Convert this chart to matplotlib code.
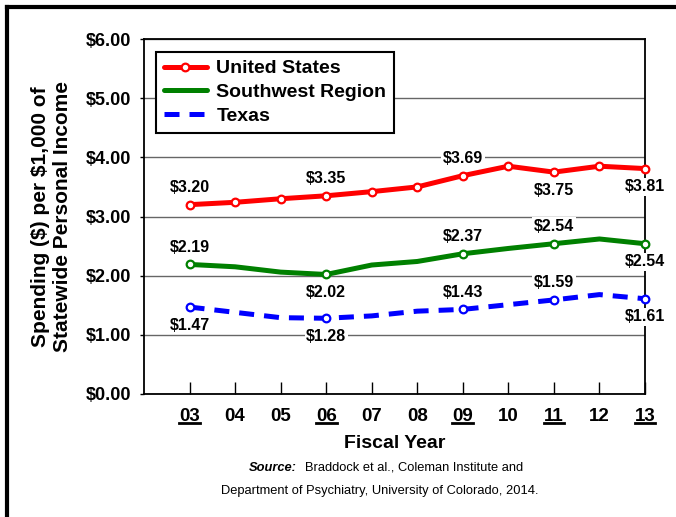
import matplotlib
matplotlib.use("Agg")
import matplotlib.pyplot as plt
from matplotlib.lines import Line2D

plt.rcParams['font.family'] = ['Liberation Sans', 'DejaVu Sans']

years = ['03', '04', '05', '06', '07', '08', '09', '10', '11', '12', '13']
underlined = ['03', '06', '09', '11', '13']
us = [3.20, 3.24, 3.30, 3.35, 3.42, 3.50, 3.69, 3.85, 3.75, 3.85, 3.81]
sw = [2.19, 2.15, 2.06, 2.02, 2.18, 2.24, 2.37, 2.46, 2.54, 2.62, 2.54]
tx = [1.47, 1.38, 1.29, 1.28, 1.32, 1.40, 1.43, 1.51, 1.59, 1.68, 1.61]
yticks = [0, 1, 2, 3, 4, 5, 6]

# label positions: (index, 'a' above / 'b' below)
us_labels = [(0, 'a'), (3, 'a'), (6, 'a'), (8, 'b'), (10, 'b')]
sw_labels = [(0, 'a'), (3, 'b'), (6, 'a'), (8, 'a'), (10, 'b')]
tx_labels = [(0, 'b'), (3, 'b'), (6, 'a'), (8, 'a'), (10, 'b')]

W, H = 676, 517
fig = plt.figure(figsize=(W / 100, H / 100), dpi=100)
L, R, T, B = 144, 645, 39, 394
ax = fig.add_axes([L / W, 1 - B / H, (R - L) / W, (B - T) / H])

x = list(range(len(years)))
red, green, blue = '#ff0000', '#008000', '#0000ff'
mk = dict(marker='o', ms=5.5, mfc='white', mew=1.6)

ax.plot(x, us, color=red, lw=3.6, zorder=3, solid_capstyle='round',
        mec=red, clip_on=False, label='United States', **mk)
ax.plot(x, sw, color=green, lw=3.6, zorder=3, solid_capstyle='round',
        label='Southwest Region')
ax.plot(x, tx, color=blue, lw=3.6, zorder=3, dashes=(3, 2),
        label='Texas')

def mark(vals, lab, col):
    idx = [i for i, _ in lab]
    ax.plot(idx, [vals[i] for i in idx], ls='none', mec=col, zorder=4,
            clip_on=False, **mk)

mark(sw, sw_labels, green)
mark(tx, tx_labels, blue)

def labels(vals, lab):
    for i, pos in lab:
        dy = 12.5 if pos == 'a' else -13
        ax.annotate('\\$%.2f' % vals[i], (i, vals[i]), xytext=(0, dy),
                    textcoords='offset points', ha='center', va='center',
                    fontsize=11.5, fontweight='bold', zorder=5,
                    bbox=dict(boxstyle='square,pad=0.1', fc='white', ec='none'),
                    annotation_clip=False)

labels(us, us_labels)
labels(sw, sw_labels)
labels(tx, tx_labels)

ax.set_xlim(-1, 10)
ax.set_ylim(0, 6)
ax.set_yticks(yticks)
ax.set_yticklabels(['\\$%.2f' % v for v in yticks], fontsize=13, fontweight='bold')
ax.set_xticks(x)
ax.set_xticklabels(years, fontsize=13.5, fontweight='bold')
ax.tick_params(axis='x', direction='in', length=8.5, width=1, pad=10)
ax.tick_params(axis='y', direction='out', length=3, width=1, pad=6)
ax.yaxis.grid(True, color='#666666', lw=1)
ax.set_axisbelow(True)
for s in ax.spines.values():
    s.set_linewidth(1.3)

ax.set_xlabel('Fiscal Year', fontsize=14, fontweight='bold', labelpad=7)
ax.set_ylabel('Spending (\\$) per \\$1,000 of\nStatewide Personal Income',
              fontsize=15, fontweight='bold', labelpad=10, linespacing=1.2)

leg = ax.legend(loc='upper left', bbox_to_anchor=((156 - L) / (R - L), (B - 52) / (B - T)),
                borderaxespad=0, frameon=True, fancybox=False, framealpha=1,
                edgecolor='black', prop={'weight': 'bold', 'size': 14},
                handlelength=2.2, handletextpad=0.5, borderpad=0.4,
                labelspacing=0.32)
leg.get_frame().set_linewidth(1.5)
leg.set_zorder(6)

fig.text(297 / W, 1 - 468 / H, 'Source:', ha='right', va='center',
         fontsize=9.3, fontweight='bold', fontstyle='italic')
fig.text(305 / W, 1 - 468 / H, 'Braddock et al., Coleman Institute and',
         ha='left', va='center', fontsize=9.3)
fig.text(380 / W, 1 - 491 / H,
         'Department of Psychiatry, University of Colorado, 2014.',
         ha='center', va='center', fontsize=9.3)

fig.add_artist(Line2D([6.5 / W, 6.5 / W], [0, 1 - 6.5 / H], color='black', lw=3))
fig.add_artist(Line2D([6.5 / W, 1], [1 - 6.5 / H, 1 - 6.5 / H], color='black', lw=3))

# underline selected tick labels
fig.canvas.draw()
rend = fig.canvas.get_renderer()
for t in ax.get_xticklabels():
    if t.get_text() in underlined:
        bb = t.get_window_extent(rend)
        yb = bb.y0 + 2
        fig.add_artist(Line2D([bb.x0 / W, bb.x1 / W], [yb / H, yb / H],
                              color='black', lw=2))

fig.savefig('out.png', dpi=100)
